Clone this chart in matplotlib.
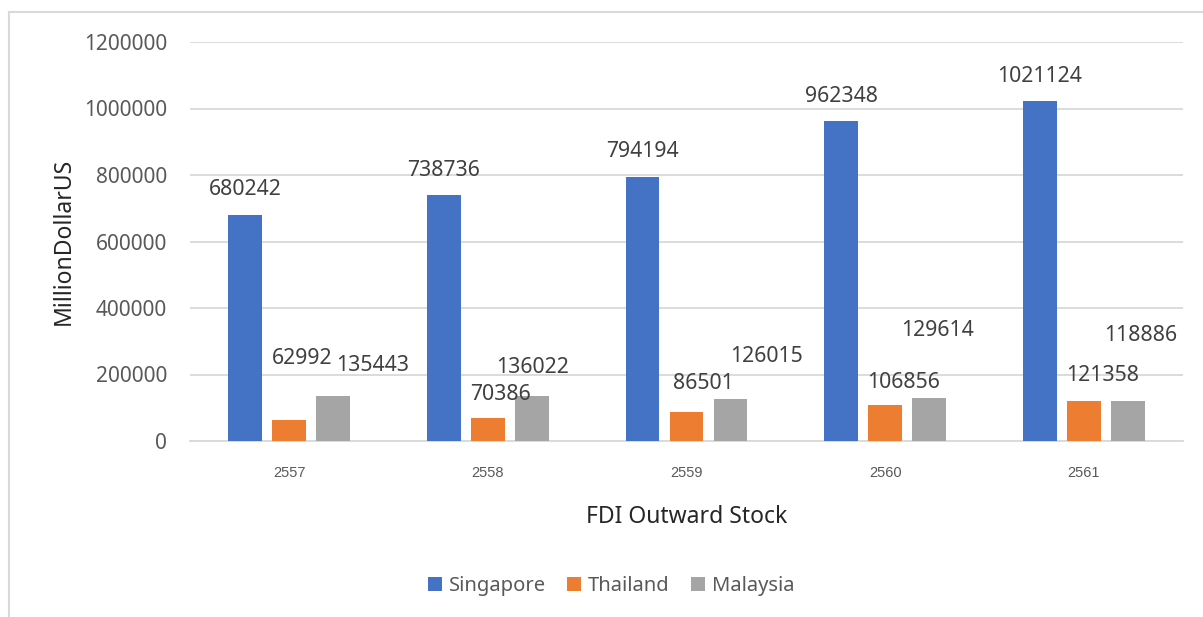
import matplotlib.pyplot as plt
import numpy as np
from matplotlib.lines import Line2D

years = ['2557', '2558', '2559', '2560', '2561']
singapore = [680242, 738736, 794194, 962348, 1021124]
thailand = [62992, 70386, 86501, 106856, 121358]
malaysia = [135443, 136022, 126015, 129614, 118886]

# label offsets in pixels (dx, dy) from top centre of each bar
off_sg = [(0, 25), (0, 25), (0, 25), (0, 25), (0, 25)]
off_th = [(13, 62), (13, 23), (17, 29), (18, 23), (19, 25)]
off_my = [(39, 30), (1, 28), (36, 43), (8, 67), (13, 66)]

plt.rcParams['font.family'] = ['Noto Sans', 'DejaVu Sans']

fig = plt.figure(figsize=(12.03, 6.17), dpi=100)
ax = fig.add_axes([190 / 1203, 1 - 441 / 617, 993 / 1203, 399 / 617])

x = np.arange(len(years))
w = 0.171
step = 0.2216
series = [
    (singapore, 'Singapore', '#4472c4', off_sg, -step),
    (thailand, 'Thailand', '#ed7d31', off_th, 0),
    (malaysia, 'Malaysia', '#a5a5a5', off_my, step),
]
for vals, name, col, offs, dx in series:
    ax.bar(x + dx, vals, w, color=col, label=name, zorder=3)
    for xi, v, (ox, oy) in zip(x + dx, vals, offs):
        ax.annotate(str(v), (xi, v), xytext=(ox, oy), textcoords='offset pixels',
                    ha='center', va='center', fontsize=15.3, color='#404040', zorder=4)

ax.set_xlim(-0.5, 4.5)
ax.set_ylim(0, 1200000)
ax.set_yticks(range(0, 1200001, 200000))
ax.set_yticklabels([str(v) for v in range(0, 1200001, 200000)], fontsize=15, color='#595959')
ax.set_xticks(x)
ax.set_xticklabels(years, fontsize=10.5, color='#595959', family='Liberation Sans')
ax.tick_params(length=0)
ax.tick_params(axis='y', pad=16.5)
ax.tick_params(axis='x', pad=18)
ax.grid(axis='y', color='#d9d9d9', lw=1.3, zorder=0)
for s in ['top', 'right', 'left']:
    ax.spines[s].set_visible(False)
ax.spines['bottom'].set_color('#d9d9d9')
ax.spines['bottom'].set_linewidth(1.3)

ax.set_xlabel('FDI Outward Stock', fontsize=16.5, color='#262626', labelpad=18)
ax.set_ylabel('MillionDollarUS', fontsize=16.5, color='#262626', labelpad=14)
ax.yaxis.set_label_coords(-114 / 993, 0.5)

fig.legend(loc='center', bbox_to_anchor=(611 / 1203, 1 - 586 / 617), ncol=3, frameon=False,
           fontsize=14.5, handlelength=0.7, handleheight=0.7, columnspacing=1.05,
           handletextpad=0.35, labelcolor='#595959')

# outer chart frame
fig.add_artist(Line2D([9 / 1203, 9 / 1203], [0, 1 - 12 / 617], color='#d9d9d9', lw=1.5))
fig.add_artist(Line2D([9 / 1203, 1], [1 - 12 / 617, 1 - 12 / 617], color='#d9d9d9', lw=1.5))

fig.savefig('out.png', dpi=100)
